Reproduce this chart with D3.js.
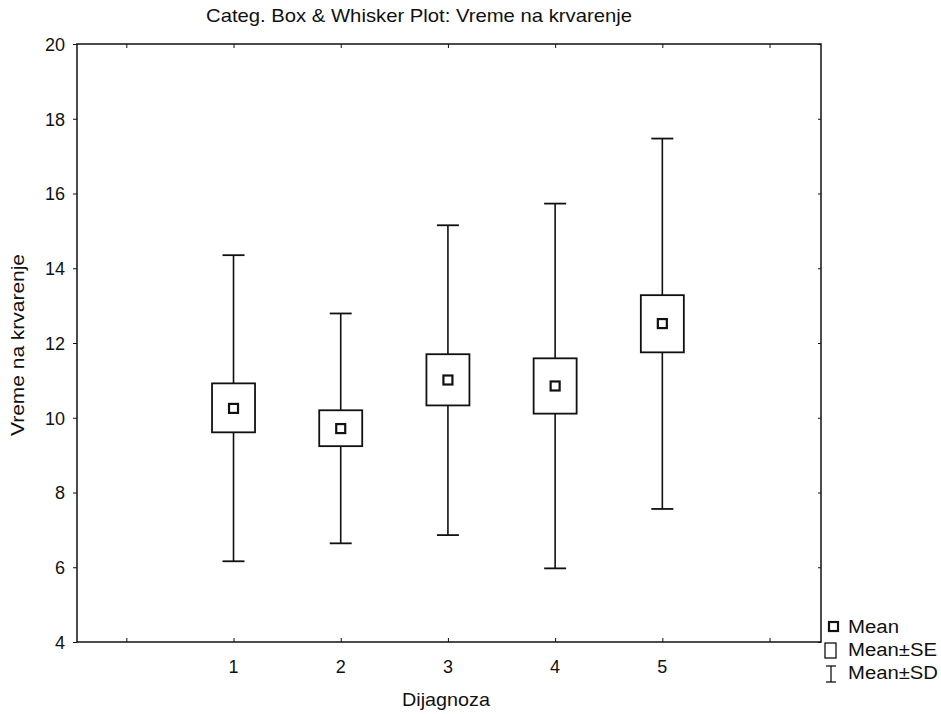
<!DOCTYPE html>
<html><head><meta charset="utf-8">
<script src="https://cdn.jsdelivr.net/npm/d3@7"></script>
<style>body{margin:0;background:#fff}svg{display:block}text{font-family:"Liberation Sans",Arial,sans-serif;fill:#111}</style>
</head><body><svg id="c" width="941" height="714"></svg>
<script>
const categories = ["1","2","3","4","5"];
const means = [10.25, 9.71, 11.01, 10.85, 12.52];
const seLow = [9.61, 9.24, 10.33, 10.11, 11.75];
const seHigh = [10.92, 10.20, 11.70, 11.59, 13.28];
const sdLow = [6.16, 6.64, 6.86, 5.97, 7.56];
const sdHigh = [14.35, 12.79, 15.15, 15.73, 17.47];
const yTicks = [4, 6, 8, 10, 12, 14, 16, 18, 20];
const xTicks = [0, 1, 2, 3, 4, 5, 6];

const svg = d3.select("#c");
const L = 77, R = 821, T = 44, B = 642;
const x = d3.scaleLinear().domain([-0.46, 6.48]).range([L, R]);
const y = d3.scaleLinear().domain([4, 20]).range([B, T]);

svg.append("rect").attr("x", L).attr("y", T).attr("width", R - L).attr("height", B - T)
  .attr("fill", "none").attr("stroke", "#111").attr("stroke-width", 1.5);

const ya = svg.append("g").attr("transform", `translate(${L},0)`)
  .call(d3.axisLeft(y).tickValues(yTicks).tickSize(4).tickPadding(8).tickFormat(d3.format("d")));
ya.select(".domain").remove();
ya.selectAll("line").attr("stroke", "#111");
ya.selectAll("text").style("font-size", "18px").attr("fill", "#111").attr("dy", "0.36em");

const yr = svg.append("g").attr("transform", `translate(${R},0)`)
  .call(d3.axisLeft(y).tickValues(yTicks).tickSize(3).tickFormat(""));
yr.select(".domain").remove();
yr.selectAll("line").attr("stroke", "#111");

const xb = svg.append("g").attr("transform", `translate(0,${B})`)
  .call(d3.axisTop(x).tickValues(xTicks).tickSize(4).tickFormat(""));
xb.select(".domain").remove();
xb.selectAll("line").attr("stroke", "#111");
const xt = svg.append("g").attr("transform", `translate(0,${T})`)
  .call(d3.axisBottom(x).tickValues(xTicks).tickSize(4).tickFormat(""));
xt.select(".domain").remove();
xt.selectAll("line").attr("stroke", "#111");

svg.append("g").selectAll("text").data(categories).join("text")
  .attr("x", (d, i) => x(i + 1)).attr("y", 673).attr("text-anchor", "middle")
  .style("font-size", "18px").text(d => d);

const g = svg.append("g");
categories.forEach((c, i) => {
  const cx = x(i + 1);
  const gg = g.append("g");
  gg.append("line").attr("x1", cx).attr("x2", cx).attr("y1", y(sdHigh[i])).attr("y2", y(sdLow[i]))
    .attr("stroke", "#111").attr("stroke-width", 1.6);
  [sdHigh[i], sdLow[i]].forEach(v => {
    gg.append("line").attr("x1", cx - 11).attr("x2", cx + 11).attr("y1", y(v)).attr("y2", y(v))
      .attr("stroke", "#111").attr("stroke-width", 1.8);
  });
  gg.append("rect").attr("x", cx - 21.5).attr("width", 43)
    .attr("y", y(seHigh[i])).attr("height", y(seLow[i]) - y(seHigh[i]))
    .attr("fill", "#fff").attr("stroke", "#111").attr("stroke-width", 1.8);
  gg.append("rect").attr("x", cx - 4.5).attr("width", 9)
    .attr("y", y(means[i]) - 4.5).attr("height", 9)
    .attr("fill", "#fff").attr("stroke", "#111").attr("stroke-width", 2.2);
});

svg.append("text").attr("x", 419).attr("y", 22).attr("text-anchor", "middle")
  .style("font-size", "19px").attr("textLength", 426).attr("lengthAdjust", "spacingAndGlyphs")
  .text("Categ. Box & Whisker Plot: Vreme na krvarenje");

svg.append("text").attr("x", 446).attr("y", 706).attr("text-anchor", "middle")
  .style("font-size", "19px").attr("textLength", 88).attr("lengthAdjust", "spacingAndGlyphs")
  .text("Dijagnoza");
svg.append("text").attr("transform", "translate(24,345) rotate(-90)").attr("text-anchor", "middle")
  .style("font-size", "18px").attr("textLength", 182).attr("lengthAdjust", "spacingAndGlyphs")
  .text("Vreme na krvarenje");

const lg = svg.append("g");
lg.append("rect").attr("x", 829).attr("y", 622).attr("width", 9).attr("height", 9)
  .attr("fill", "#fff").attr("stroke", "#111").attr("stroke-width", 2.2);
lg.append("rect").attr("x", 825).attr("y", 643).attr("width", 11).attr("height", 15)
  .attr("fill", "#fff").attr("stroke", "#111").attr("stroke-width", 1.3);
lg.append("line").attr("x1", 831).attr("x2", 831).attr("y1", 666).attr("y2", 682).attr("stroke", "#111").attr("stroke-width", 1.3);
lg.append("line").attr("x1", 826).attr("x2", 836).attr("y1", 666).attr("y2", 666).attr("stroke", "#111").attr("stroke-width", 1.3);
lg.append("line").attr("x1", 826).attr("x2", 836).attr("y1", 682).attr("y2", 682).attr("stroke", "#111").attr("stroke-width", 1.3);
const legendLabels = ["Mean", "Mean±SE", "Mean±SD"];
const legendW = [51, 89, 90];
lg.selectAll("text.l").data(legendLabels).join("text").attr("class", "l")
  .attr("x", 848).attr("y", (d, i) => 633 + i * 23)
  .style("font-size", "18px").attr("textLength", (d, i) => legendW[i]).attr("lengthAdjust", "spacingAndGlyphs")
  .text(d => d);
</script></body></html>
